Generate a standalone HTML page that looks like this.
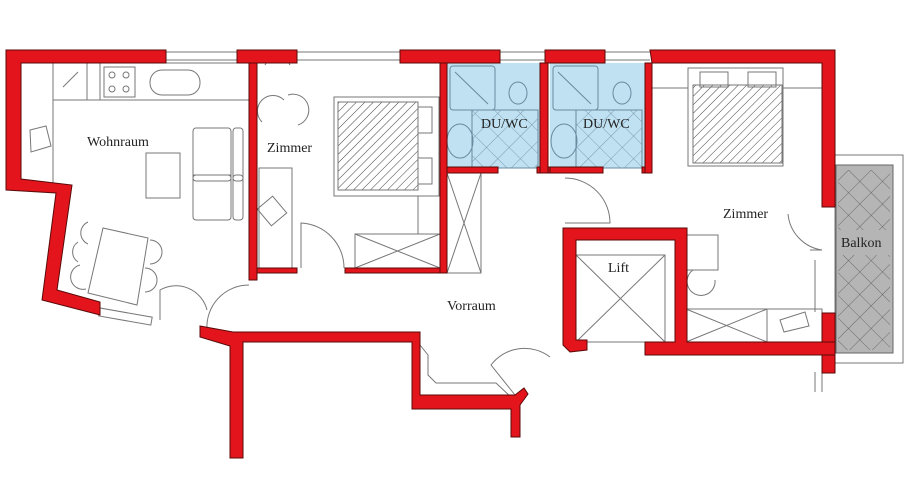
<!DOCTYPE html>
<html><head><style>
html,body{margin:0;padding:0;background:#fff;width:913px;height:500px;overflow:hidden}
svg{display:block}
text{font-family:"Liberation Serif",serif;font-size:14px;fill:#222}
</style></head><body>
<svg width="913" height="500" viewBox="0 0 913 500" xmlns="http://www.w3.org/2000/svg">
<defs>
<pattern id="h" width="6" height="6" patternUnits="userSpaceOnUse" patternTransform="rotate(45)">
<line x1="0" y1="0" x2="0" y2="6" stroke="#444" stroke-width="1"/></pattern>
<pattern id="x" width="16" height="16" patternUnits="userSpaceOnUse" patternTransform="rotate(45)">
<path d="M0 0H16M0 0V16" stroke="#6a8aa0" stroke-width="0.8" fill="none"/></pattern>
<pattern id="xg" width="16" height="16" patternUnits="userSpaceOnUse" patternTransform="rotate(45)">
<path d="M0 0H16M0 0V16" stroke="#555" stroke-width="0.8" fill="none"/></pattern>
</defs>
<g fill="none" stroke="#777" stroke-width="1">
<!-- windows -->
<path d="M166 52H237M166 60H237M297 52H400M297 60H400M500 52H545M500 60H545M605 52H650M605 60H650"/>
<!-- kitchen -->
<rect x="53" y="63" width="196" height="37"/>
<line x1="87" y1="63" x2="87" y2="100"/><line x1="100" y1="63" x2="100" y2="100"/><line x1="53" y1="100" x2="53" y2="190"/>
<rect x="104" y="67" width="31" height="30"/>
<circle cx="112" cy="75" r="3"/><circle cx="126" cy="75" r="3"/><circle cx="112" cy="89" r="3"/><circle cx="126" cy="89" r="3"/>
<rect x="150" y="70" width="50" height="25" rx="12"/>
<line x1="63" y1="87" x2="78" y2="72"/>
<!-- sofa/table -->
<rect x="146" y="153" width="34" height="45"/>
<rect x="193" y="128" width="38" height="53" rx="3"/><rect x="233" y="128" width="10" height="53" rx="3"/>
<line x1="193" y1="175" x2="231" y2="175"/>
<rect x="193" y="175" width="38" height="45" rx="3"/><rect x="233" y="175" width="10" height="45" rx="3"/>
<!-- dining -->
<polygon points="103,228 148,238 137,305 88,293"/>
<path d="M88 222a12 12 0 0 0 0 22M78 242a12 12 0 0 0 0 20M150 240a12 12 0 0 1 0 24M145 268a12 12 0 0 1 0 24M80 265a12 12 0 0 0 6 24"/>
<path d="M30 130l16 -4 5 20-20 6z"/>
<!-- doors -->
<path d="M160 320v-30a32 32 0 0 1 47 20"/>
<path d="M207 330a42 42 0 0 1 42 -45"/>
<rect x="100" y="308" width="53" height="8" transform="rotate(10 100 308)"/>
<!-- zimmer1 -->
<rect x="334" y="97" width="105" height="99"/>
<rect x="338" y="102" width="80" height="88" fill="url(#h)"/>
<rect x="418" y="107" width="14" height="26"/><rect x="418" y="158" width="14" height="26"/>
<rect x="259" y="168" width="33" height="100"/>
<rect x="262" y="200" width="20" height="22" transform="rotate(-40 272 211)"/>
<path d="M262 122a14 14 0 0 1 22 -22M288 95a14 14 0 0 1 10 30M265 65a14 14 0 0 1 25 0"/>
<path d="M301 268v-45a45 45 0 0 1 43 45"/>
<rect x="355" y="234" width="85" height="34"/>
<path d="M355 234L440 268M440 234L355 268M418 196v38"/>
<rect x="447" y="173" width="34" height="100"/>
<path d="M447 173L481 273M481 173L447 273"/>
<!-- vorraum doors -->
<path d="M565 178a45 45 0 0 1 45 45h-45"/>
<path d="M519 400l-28 -35a42 42 0 0 1 59 -8"/>
<path d="M420 345l8 10v20l8 8h60l16 15"/>
<!-- lift -->
<rect x="576" y="255" width="89" height="87"/>
<path d="M576 255L665 342M665 255L576 342"/>
<!-- zimmer2 -->
<rect x="688" y="68" width="95" height="98"/>
<rect x="693" y="85" width="89" height="78" fill="url(#h)"/>
<rect x="700" y="72" width="28" height="15"/><rect x="748" y="72" width="28" height="15"/>
<path d="M652 88H688M783 88H822"/>
<rect x="686" y="235" width="32" height="35"/>
<path d="M693 270a14 14 0 1 0 22 10"/>
<rect x="686" y="309" width="136" height="33"/>
<path d="M686 309L767 342M767 309L686 342M767 309v33"/>
<path d="M780 320l25 -8 4 14-25 6z"/>
<path d="M788 214a40 40 0 0 0 34 36h-12"/>
<path d="M815 260v52M815 372v20M822 372v20"/>
<!-- balkon -->
<rect x="835" y="155" width="68" height="208"/>
</g>
<!-- baths -->
<rect x="447" y="63" width="93" height="105" fill="#bfe1f1"/>
<rect x="550" y="63" width="95" height="105" fill="#bfe1f1"/>
<g fill="none" stroke="#6a8aa0" stroke-width="1">
<rect x="450" y="66" width="45" height="44" rx="3"/><path d="M455 72L488 104"/>
<ellipse cx="460" cy="141" rx="13" ry="17"/>
<ellipse cx="518" cy="93" rx="9" ry="11"/>
<rect x="472" y="110" width="66" height="58" fill="url(#x)"/>
<rect x="553" y="66" width="45" height="44" rx="3"/><path d="M558 72L591 104"/>
<ellipse cx="564" cy="141" rx="13" ry="17"/>
<ellipse cx="622" cy="93" rx="9" ry="11"/>
<rect x="576" y="110" width="66" height="58" fill="url(#x)"/>
</g>
<rect x="836" y="165" width="57" height="188" fill="#b5b5b5" stroke="#666"/>
<rect x="838" y="170" width="52" height="60" fill="url(#xg)"/>
<rect x="838" y="255" width="52" height="95" fill="url(#xg)"/>
<!-- walls -->
<g fill="#e3141b" stroke="#5a0a0a" stroke-width="1">
<polygon points="6,50 166,50 166,63 21,63 21,179 72,185 57,290 100,302 100,315 42,300 56,193 6,190"/>
<rect x="237" y="50" width="60" height="13"/>
<rect x="400" y="50" width="100" height="13"/>
<rect x="545" y="50" width="60" height="13"/>
<polygon points="650,50 835,50 835,207 822,207 822,63 652,63"/>
<rect x="822" y="313" width="13" height="60"/>
<rect x="249" y="63" width="8" height="217"/>
<rect x="257" y="268" width="40" height="5"/>
<rect x="345" y="268" width="97" height="5"/>
<rect x="440" y="63" width="7" height="210"/>
<rect x="447" y="167" width="51" height="6"/>
<rect x="537" y="167" width="14" height="6"/>
<rect x="540" y="63" width="8" height="110"/>
<rect x="550" y="167" width="53" height="6"/>
<rect x="642" y="167" width="10" height="6"/>
<rect x="645" y="63" width="7" height="110"/>
<polygon points="563,228 687,228 687,342 835,342 835,355 645,355 645,342 675,342 675,240 576,240 576,340 587,340 587,350 570,352 563,345"/>
<polygon points="200,326 233,332 420,332 420,395 515,395 524,388 528,394 520,405 520,437 511,437 511,409 412,409 412,342 243,342 243,458 230,458 230,346 200,337"/>
</g>
<text x="87" y="146">Wohnraum</text>
<text x="267" y="152">Zimmer</text>
<text x="481" y="128">DU/WC</text>
<text x="583" y="128">DU/WC</text>
<text x="723" y="218">Zimmer</text>
<text x="841" y="247">Balkon</text>
<text x="608" y="272">Lift</text>
<text x="447" y="310">Vorraum</text>
</svg>
</body></html>
